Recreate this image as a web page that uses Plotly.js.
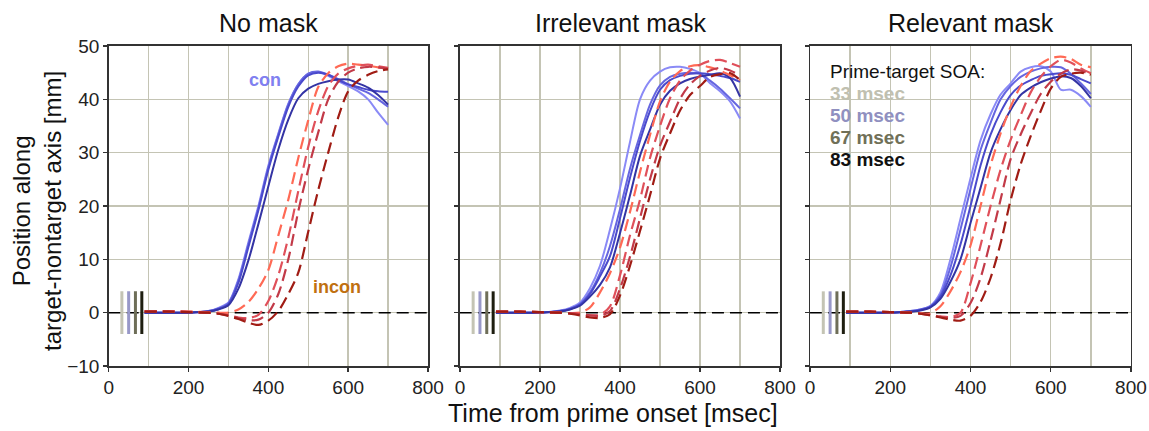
<!DOCTYPE html>
<html>
<head>
<meta charset="utf-8">
<script src="https://cdn.plot.ly/plotly-3.0.1.min.js"></script>
<style>html,body{margin:0;padding:0;background:#fff;}#chart{width:1149px;height:431px;}</style>
</head>
<body>
<div id="chart"></div>
<script>
// Time grid (msec from prime onset)
const timeMs = [90,150,200,250,275,300,325,350,375,400,425,450,475,500,525,550,575,600,625,650,675,700];

// SOA conditions
const soaLabels = ['33 msec','50 msec','67 msec','83 msec'];
const soaValues = [33,50,67,83];
const soaMarkY = [-4, 4];
const panelTitles = ['No mask','Irrelevant mask','Relevant mask'];
const zeroX = [0, 800];
const zeroY = [0, 0];

// No mask: congruent (solid) curves, SOA 33/50/67/83
const noMaskCon = [
  [0,0,0,0.3,0.9,1.9,6.3,13.2,20,27.6,33.6,39.2,42.8,44.8,45.1,44.4,43.4,42.5,41.5,40,37.5,35.2],
  [0,0,0,0.3,0.8,1.8,6,12.8,19.6,27.2,33.4,39,42.8,44.8,45.2,44.6,43.8,42.8,42,41.2,40,38.6],
  [0,0,0,0.2,0.7,1.6,5.6,12.3,19.2,26.8,33,38.6,42.4,44.5,45,44.6,43.6,42.8,42.3,41.8,41.5,41.4],
  [0,0,0,0.2,0.6,1.4,4.5,9.8,16.6,23.7,30.6,36.2,40.2,42,42.9,43.4,43.7,43.7,43,42.2,40.8,39]
];
// No mask: incongruent (dashed)
const noMaskIncon = [
  [0.3,0.3,0.2,0.1,0,0,0.6,2,4.5,8,14.5,21.2,29,36.1,42.3,44.9,46.2,46.7,46.5,46.3,46,45.8],
  [0.3,0.3,0.2,0,-0.2,-0.5,-0.9,-1,-0.4,2.2,7,14.1,22.8,31.1,37.8,42.5,44.8,45.8,46.3,46.5,46.2,45.9],
  [0.2,0.2,0.1,0,-0.2,-0.5,-1,-1.4,-1.3,0,3.5,10,19,26.9,33.8,40,43.3,45,45.8,46.1,46,45.7],
  [0.2,0.2,0.1,0,-0.2,-0.6,-1.2,-1.9,-2.3,-1.5,0.3,3.5,7.5,15.2,23,30,36.6,41.5,43.5,44.6,45.3,45.6]
];
// Irrelevant mask
const irrelCon = [
  [0,0,0,0.4,0.9,1.9,4.6,8.8,15.6,23.3,32,40,43.5,45.2,46,46.1,45.7,44.9,43,41.5,39.6,36.4],
  [0,0,0,0.3,0.7,1.6,3.8,7.4,12.5,19.4,27,33.3,39,42.6,44.2,44.8,45,44.8,43.5,42,40.2,38.3],
  [0,0,0,0.3,0.7,1.5,3.5,6.8,10.6,17.7,25.3,32.2,37.8,41.8,43.6,44.4,44.8,44.9,44.7,44.4,44,43.3],
  [0,0,0,0.2,0.6,1.3,3,5.2,8.5,14.9,22,29.4,34.3,39,41.6,43,43.8,44.3,44.6,44.9,44,40.5]
];
const irrelIncon = [
  [0.2,0.2,0.1,0,-0.1,0,1,3.8,7.4,12.2,18.9,26.4,33.3,39.6,43.3,45.3,46.2,46.4,46,45.4,44.5,43.6],
  [0.2,0.2,0.1,0,-0.1,-0.3,-0.5,-0.4,1.2,7,14.5,21.2,29,35,40.2,43.5,45.4,46.5,47.2,47.4,46.8,46.1],
  [0.2,0.2,0.1,0,-0.1,-0.3,-0.5,-0.6,0.3,4.5,10.5,17.7,25,31.3,35.8,40.1,42.8,44.4,45.4,45.9,45.4,44.5],
  [0.2,0.2,0.1,0,-0.2,-0.5,-0.9,-1,-0.3,3.2,8.8,15.3,22,28.9,33.6,37.9,40.8,42.5,44.2,44.7,44.9,43.6]
];
// Relevant mask
const relCon = [
  [0,0,0,0.3,0.6,1.3,3.8,10,17.6,25.2,32.3,37.2,40.9,43,45.2,46,46.2,45.2,41.8,41.8,40.6,38.6],
  [0,0,0,0.3,0.6,1.2,3.3,8.5,15.6,23.2,30.5,35.6,40,42.5,44.2,45.2,45.8,46.1,46,44.8,43,41],
  [0,0,0,0.2,0.5,1.1,3,7,12.8,20,27.6,33.4,37.6,40.8,42.6,43.6,44.4,44.7,44.9,44.6,43.8,43],
  [0,0,0,0.2,0.4,1,2.6,5.8,10,16.8,23.4,30,34.4,38,40.8,42.2,43.2,43.9,44.3,44,42.5,40.2]
];
const relIncon = [
  [0.2,0.2,0.1,0,-0.1,-0.1,1.2,4,7.6,12.6,20,27.6,33.6,38.6,42.5,45.3,46.7,47.7,48,47.6,46.5,46],
  [0.2,0.2,0.1,0,-0.2,-0.4,-0.7,-0.8,0,5.5,12.6,20,26.8,32.4,37,41.3,44.2,46.2,47.4,46.9,45.8,44.9],
  [0.2,0.2,0.1,0,-0.2,-0.5,-0.8,-1,-0.6,1.8,6.5,13.5,21.2,28.8,33.4,37.4,41,43.3,44.8,45.6,45.4,44.5],
  [0.2,0.2,0.1,0,-0.2,-0.5,-0.9,-1.3,-1.5,-0.6,2,6.5,13,21.1,27.8,33.1,37.8,42,44.2,44.8,45,44.6]
];

const conColors = ['#8a8af6','#6666e0','#4a4acc','#3434a4'];
const inconColors = ['#ff6a55','#e0505a','#c23a48','#a01c14'];
const soaColors = ['#c4c4b4','#9898c8','#6e6e58','#1e1e10'];
const legendColors = ['#c0c0b0','#9090c0','#707058','#101010'];

const FONT = 'Arial, "Liberation Sans", sans-serif';
const panelData = [[noMaskCon,noMaskIncon],[irrelCon,irrelIncon],[relCon,relIncon]];
const axSuffix = ['','2','3'];

const traces = [];
panelData.forEach((pd, p) => {
  const xa = 'x' + axSuffix[p], ya = 'y' + axSuffix[p];
  traces.push({x: zeroX, y: zeroY, xaxis: xa, yaxis: ya, mode: 'lines',
    line: {color: '#000', width: 1.5, dash: '12px,6px'}, hoverinfo: 'skip', showlegend: false});
  soaValues.forEach((s, i) => {
    traces.push({x: [s, s], y: soaMarkY, xaxis: xa, yaxis: ya, mode: 'lines',
      line: {color: soaColors[i], width: 3}, showlegend: false});
  });
  pd[0].forEach((ys, i) => {
    traces.push({x: timeMs, y: ys, xaxis: xa, yaxis: ya, mode: 'lines',
      line: {color: conColors[i], width: 2, shape: 'spline', smoothing: 0.8}, showlegend: false});
  });
  pd[1].forEach((ys, i) => {
    traces.push({x: timeMs, y: ys, xaxis: xa, yaxis: ya, mode: 'lines',
      line: {color: inconColors[i], width: 2.2, dash: '12px,6px', shape: 'spline', smoothing: 0.8}, showlegend: false});
  });
});

const xDomains = [[0.0946,0.3725],[0.4003,0.6789],[0.705,0.9843]];
const grid = '#c4c4b4';
function xAxis(i) {
  return {domain: xDomains[i], anchor: 'y' + axSuffix[i], range: [0,800], tick0: 0, dtick: 200,
    ticks: 'outside', ticklen: 4, tickwidth: 1.5, tickcolor: '#333',
    showline: true, linecolor: '#333', linewidth: 1.5, mirror: true,
    showgrid: true, gridcolor: grid, gridwidth: 1.5,
    minor: {dtick: 100, showgrid: true, gridcolor: grid, gridwidth: 1.5},
    zeroline: false, tickfont: {family: FONT, size: 19, color: '#222'}};
}
function yAxis(i) {
  return {domain: [0.1508, 0.8933], anchor: 'x' + axSuffix[i], range: [-10,50], dtick: 10,
    ticks: 'outside', ticklen: 4, tickwidth: 1.5, tickcolor: '#333',
    showline: true, linecolor: '#333', linewidth: 1.5, mirror: true,
    showgrid: true, gridcolor: grid, gridwidth: 1.5, zeroline: false,
    showticklabels: i === 0, tickfont: {family: FONT, size: 19, color: '#222'}};
}

const annotations = [];
const titleX = [0.2333, 0.5396, 0.8447];
panelTitles.forEach((t, i) => annotations.push({text: t, xref: 'paper', yref: 'paper', x: titleX[i], y: 0.9466,
  xanchor: 'center', yanchor: 'middle', showarrow: false, font: {family: FONT, size: 25, color: '#111'}}));
annotations.push({text: 'Time from prime onset [msec]', xref: 'paper', yref: 'paper', x: 0.5335, y: 0.0418,
  xanchor: 'center', yanchor: 'middle', showarrow: false, font: {family: FONT, size: 25, color: '#111'}});
annotations.push({text: 'Position along<br>target-nontarget axis [mm]', xref: 'paper', yref: 'paper', x: 0.032, y: 0.51,
  xanchor: 'center', yanchor: 'middle', textangle: -90, showarrow: false, align: 'center',
  font: {family: FONT, size: 24, color: '#111'}});
annotations.push({text: '<b>con</b>', xref: 'x', yref: 'y', x: 391, y: 43.6, showarrow: false,
  xanchor: 'center', yanchor: 'middle', font: {family: FONT, size: 18, color: '#8080f0'}});
annotations.push({text: '<b>incon</b>', xref: 'x', yref: 'y', x: 571, y: 4.8, showarrow: false,
  xanchor: 'center', yanchor: 'middle', font: {family: FONT, size: 18, color: '#c07010'}});
annotations.push({text: 'Prime-target SOA:', xref: 'x3', yref: 'y3', x: 45, y: 45.2, showarrow: false,
  xanchor: 'left', yanchor: 'middle', font: {family: FONT, size: 19, color: '#111'}});
const legY = [41.1, 36.9, 32.8, 28.7];
soaLabels.forEach((l, i) => annotations.push({text: '<b>' + l + '</b>', xref: 'x3', yref: 'y3', x: 45, y: legY[i],
  showarrow: false, xanchor: 'left', yanchor: 'middle', font: {family: FONT, size: 19, color: legendColors[i]}}));

const layout = {
  width: 1149, height: 431, margin: {l: 0, r: 0, t: 0, b: 0},
  paper_bgcolor: '#fff', plot_bgcolor: '#fff', showlegend: false,
  font: {family: FONT},
  xaxis: xAxis(0), xaxis2: xAxis(1), xaxis3: xAxis(2),
  yaxis: yAxis(0), yaxis2: yAxis(1), yaxis3: yAxis(2),
  annotations: annotations
};
Plotly.newPlot('chart', traces, layout, {staticPlot: true, displayModeBar: false});
</script>
</body>
</html>
